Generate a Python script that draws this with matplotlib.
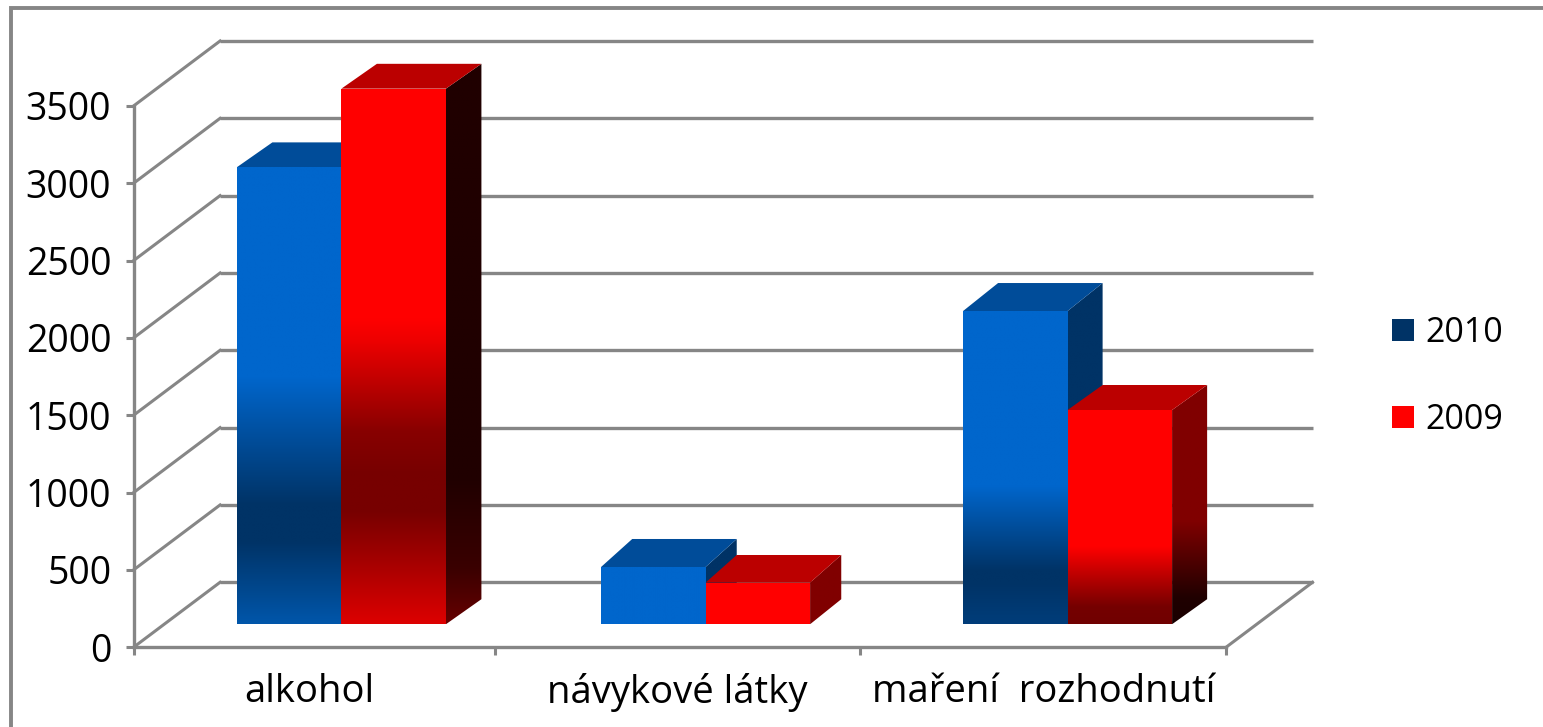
import numpy as np
import matplotlib
matplotlib.use("Agg")
import matplotlib.pyplot as plt
from matplotlib.colors import LinearSegmentedColormap
from matplotlib.lines import Line2D
from matplotlib.patches import Patch, Polygon

plt.rcParams['font.family'] = ['Open Sans', 'DejaVu Sans']

categories = ['alkohol', 'návykové látky', 'maření  rozhodnutí']
values_2010 = [2955, 370, 2025]
values_2009 = [3463, 269, 1385]
y_ticks = [0, 500, 1000, 1500, 2000, 2500, 3000, 3500]

W, H = 1543, 727
GREY = '#868686'
BLUE, BLUE_DARK, BLUE_TOP = '#0066CC', '#003366', '#004C99'
RED, RED_DARK, RED_TOP = '#FF0000', '#800000', '#BB0000'

# depth of the floor in data units, 86 px across and 65 px up
DEPTH_X = 86.5 / 364
DEPTH_Y = 65 / (541.3 / 3500)
BAR_FRONT_X = 0.37
BAR_FRONT_Y = 0.355
BAR_BACK = 0.74
BAR_WIDTH = 0.287
# the old chart is not quite regular, so each group has its own offsets
bar_start = [0.196, 0.196, 0.19]
back_x = [0.78, 0.73, 0.775]
top_back_2010 = [0.737, 0.786, 0.786]
top_back_2009 = [0.737, 0.78, 0.74]

# gradient stops, 0 = top of the face, 1 = bottom
front_2010 = [
    [(0, BLUE), (.46, BLUE), (.74, BLUE_DARK), (.82, BLUE_DARK), (1, '#0056AA')],
    [(0, BLUE), (1, BLUE)],
    [(0, BLUE), (.56, BLUE), (.83, BLUE_DARK), (.87, BLUE_DARK), (1, '#003D7A')],
]
front_2009 = [
    [(0, RED), (.43, RED), (.47, '#EE0000'), (.64, '#880000'), (.72, '#770000'),
     (.79, '#770000'), (1, '#DD0000')],
    [(0, RED), (1, RED)],
    [(0, RED), (.64, RED), (.75, '#C80000'), (.92, '#750000'), (1, '#700000')],
]
side_2010 = [
    [(0, BLUE_DARK), (1, BLUE_DARK)],
    [(0, BLUE_DARK), (1, BLUE_DARK)],
    [(0, BLUE_DARK), (1, BLUE_DARK)],
]
side_2009 = [
    [(0, '#200000'), (.74, '#200000'), (.9, '#3A0000'), (1, '#660000')],
    [(0, RED_DARK), (1, RED_DARK)],
    [(0, RED_DARK), (.57, RED_DARK), (.89, '#200000'), (1, '#1A0000')],
]


def project(x, v, dx, dy=None):
    if dy is None:
        dy = dx
    return (x + dx * DEPTH_X, v + dy * DEPTH_Y)


def gradient_face(ax, pts, stops, z):
    # vertical gradient clipped to the face polygon
    xs = [p[0] for p in pts]
    ys = [p[1] for p in pts]
    cmap = LinearSegmentedColormap.from_list('face', stops, N=512)
    grad = np.linspace(0, 1, 512).reshape(-1, 1)
    im = ax.imshow(grad, cmap=cmap, vmin=0, vmax=1, aspect='auto', origin='upper',
                   extent=(min(xs), max(xs), min(ys), max(ys)), zorder=z,
                   interpolation='bilinear')
    poly = Polygon(pts, closed=True, transform=ax.transData, facecolor='none', edgecolor='none',
                   clip_on=False)
    ax.add_patch(poly)
    im.set_clip_box(fig.bbox)
    im.set_clip_path(poly)


def draw_bar(ax, x, value, bx, top_y, front, side, top_color, z):
    w = BAR_WIDTH
    fx, fy = BAR_FRONT_X, BAR_FRONT_Y
    gradient_face(ax, [project(x + w, 0, fx, fy), project(x + w, 0, bx, BAR_BACK),
                       project(x + w, value, bx, top_y), project(x + w, value, fx, fy)], side, z)
    ax.add_patch(Polygon([project(x, value, fx, fy), project(x + w, value, fx, fy),
                          project(x + w, value, bx, top_y), project(x, value, bx, top_y)],
                         closed=True, facecolor=top_color, edgecolor='none', zorder=z + 1,
                         clip_on=False))
    gradient_face(ax, [project(x, 0, fx, fy), project(x + w, 0, fx, fy),
                       project(x + w, value, fx, fy), project(x, value, fx, fy)], front, z + 2)


fig = plt.figure(figsize=(W / 100, H / 100), dpi=100, facecolor='white')
ax = fig.add_axes([133.5 / W, 1 - 647.3 / H, (1226 - 133.5) / W, 541.3 / H])
ax.patch.set_visible(False)

# back wall grid and the diagonals on the side wall
for v in y_ticks:
    x0, y0 = project(0, v, 1)
    x1, y1 = project(3, v, 1)
    ax.plot([x0, x1], [y0, y1], color=GREY, lw=2.4, clip_on=False, zorder=1, solid_capstyle='butt')
    x2, y2 = project(0, v, 0)
    ax.plot([x2, x0], [y2, y0], color=GREY, lw=2.2, clip_on=False, zorder=1)
ax.plot(*zip(project(3, 0, 0), project(3, 0, 1)), color=GREY, lw=2.2, clip_on=False, zorder=1)

for i in range(len(categories)):
    draw_bar(ax, i + bar_start[i], values_2010[i], back_x[i], top_back_2010[i],
             front_2010[i], side_2010[i], BLUE_TOP, 3)
    draw_bar(ax, i + bar_start[i] + BAR_WIDTH, values_2009[i], back_x[i], top_back_2009[i],
             front_2009[i], side_2009[i], RED_TOP, 6)

ax.set_xlim(0, 3)
ax.set_ylim(0, 3500)

for s in ['top', 'right']:
    ax.spines[s].set_visible(False)
for s in ['left', 'bottom']:
    ax.spines[s].set_color(GREY)
    ax.spines[s].set_linewidth(2.4)

ax.set_yticks(y_ticks)
ax.tick_params(axis='y', length=6, width=2.2, color=GREY, labelsize=27, pad=10, labelcolor='#000000')
ax.set_xticks([0.482, 1.493, 2.498])
ax.set_xticklabels(categories)
ax.set_xticks([0, 0.994, 1.996, 3], minor=True)
ax.tick_params(axis='x', which='major', length=0, labelsize=27.5, pad=18.5, labelcolor='#000000')
ax.tick_params(axis='x', which='minor', length=6, width=2.2, color=GREY)

handles = [Patch(facecolor=BLUE_DARK, edgecolor='none', label='2010'),
           Patch(facecolor=RED, edgecolor='none', label='2009')]
ax.legend(handles=handles, loc='center left', bbox_to_anchor=(1259 / 1092.5, 0.50), frameon=False,
          fontsize=24.5, handlelength=0.62, handleheight=0.62, handletextpad=0.36, labelspacing=1.55,
          borderpad=0, borderaxespad=0)

# outer frame, runs off the right and bottom edge
fig.add_artist(Line2D([11 / W, 11 / W, 1], [0, 1 - 8 / H, 1 - 8 / H], color=GREY, lw=2.8,
                      solid_joinstyle='miter'))

fig.savefig('out.png', dpi=100)
